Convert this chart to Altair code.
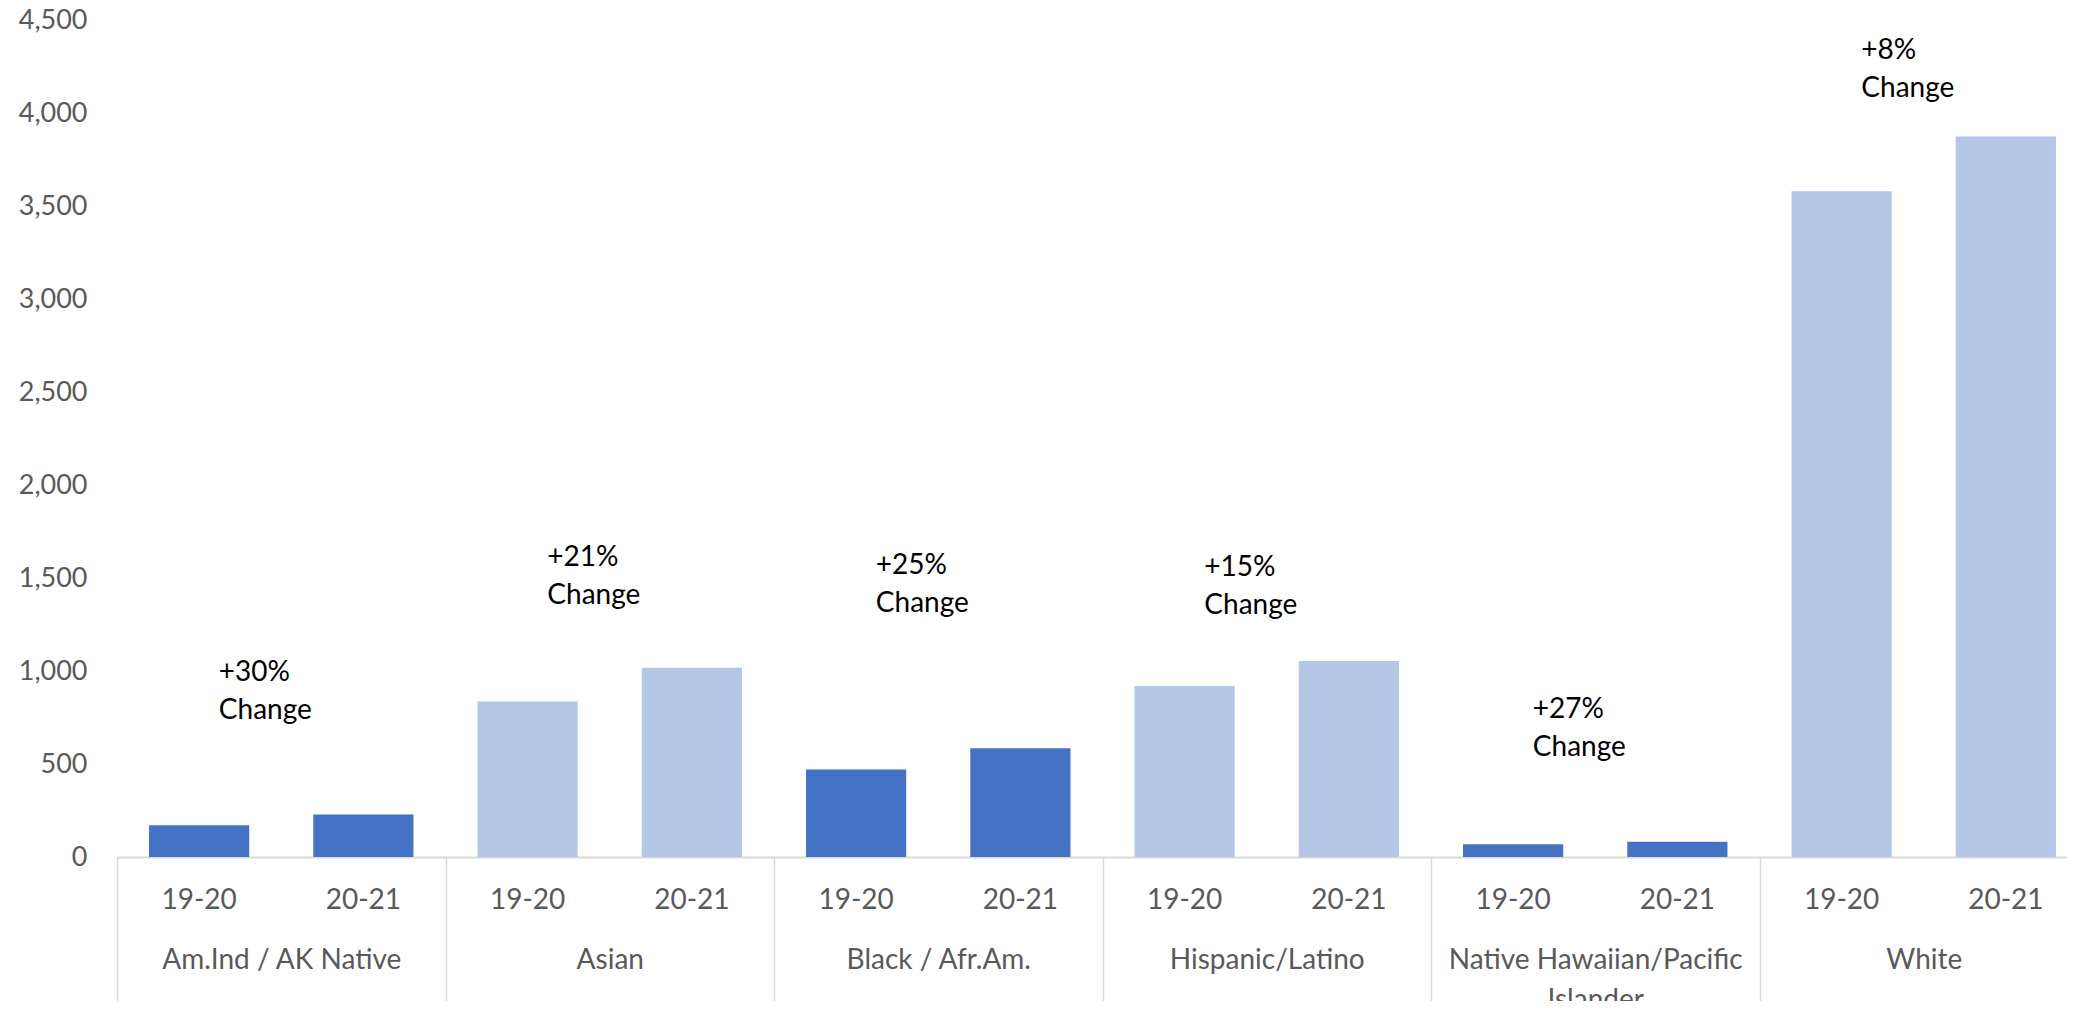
import altair as alt
import pandas as pd

groups = ["Am.Ind / AK Native", "Asian", "Black / Afr.Am.", "Hispanic/Latino",
          "Native Hawaiian/Pacific Islander", "White"]
years = ["19-20", "20-21"]
values_1920 = [171, 836, 470, 919, 68, 3579]
values_2021 = [229, 1018, 585, 1054, 82, 3873]
changes = ["+30%", "+21%", "+25%", "+15%", "+27%", "+8%"]
label_level = [948, 1564, 1521, 1511, 745, 4291]
y_ticks = list(range(0, 4501, 500))

dark, light = "#4472C4", "#B4C7E7"
palette = [dark, light, dark, light, dark, light]
FONT = "Lato"
GREY = "#595959"
LINE = "#D9D9D9"

rows = []
for g, a, b in zip(groups, values_1920, values_2021):
    for yr, v in zip(years, [a, b]):
        rows.append({"group": g, "year": yr, "key": g + "|" + yr, "value": v})
bars_df = pd.DataFrame(rows)

ann_df = pd.DataFrame({
    "group": groups,
    "text": [c + "\nChange" for c in changes],
    "level": label_level,
})

RANGE = [0, 1971]

y_axis = alt.Axis(title=None, domain=False, ticks=False, grid=False, values=y_ticks,
                  format=",d", labelFont=FONT, labelFontSize=27, labelColor=GREY,
                  labelPadding=30)
y_scale = alt.Scale(domain=[0, 4500], nice=False)

bars = alt.Chart(bars_df).mark_bar().encode(
    x=alt.X("key:N", sort=None,
            scale=alt.Scale(range=RANGE, paddingInner=0.39, paddingOuter=0.195),
            axis=alt.Axis(title=None, orient="bottom", domain=False, ticks=False, tickSize=0,
                          labelAngle=0, labelExpr="split(datum.label, '|')[1]",
                          labelFont=FONT, labelFontSize=28, labelColor=GREY,
                          labelPadding=29, labelBaseline="top", labelOverlap=False)),
    y=alt.Y("value:Q", scale=y_scale, axis=y_axis),
    color=alt.Color("group:N", sort=None,
                    scale=alt.Scale(domain=groups, range=palette), legend=None),
)

ann = alt.Chart(ann_df).mark_text(
    align="left", baseline="alphabetic", lineBreak="\n", lineHeight=38,
    font=FONT, fontSize=28, color="#000000",
).encode(
    x=alt.X("group:N", sort=None, bandPosition=0.31,
            scale=alt.Scale(range=RANGE, paddingInner=0, paddingOuter=0),
            axis=alt.Axis(title=None, orient="bottom", domain=True, domainColor=LINE,
                          domainWidth=2, ticks=True, tickBand="extent", tickSize=150,
                          tickColor=LINE, tickWidth=1.5, labelAngle=0,
                          labelExpr="length(datum.label) > 25 ? [slice(datum.label, 0, lastindexof(datum.label, ' ')), slice(datum.label, lastindexof(datum.label, ' ') + 1)] : datum.label",
                          labelFont=FONT, labelFontSize=28, labelColor=GREY,
                          labelPadding=-61, labelBaseline="top", labelLineHeight=40,
                          labelLimit=500, labelOverlap=False)),
    y=alt.Y("level:Q", scale=y_scale, axis=y_axis),
    text="text:N",
)

chart = alt.layer(bars, ann).resolve_scale(x="independent").properties(
    width=1950, height=837,
    autosize=alt.AutoSizeParams(type="none"),
    padding={"left": 109, "top": 12, "right": 0, "bottom": 144},
).configure_view(stroke=None)

chart.save("out.html", embed_options={"renderer": "svg", "actions": False})
